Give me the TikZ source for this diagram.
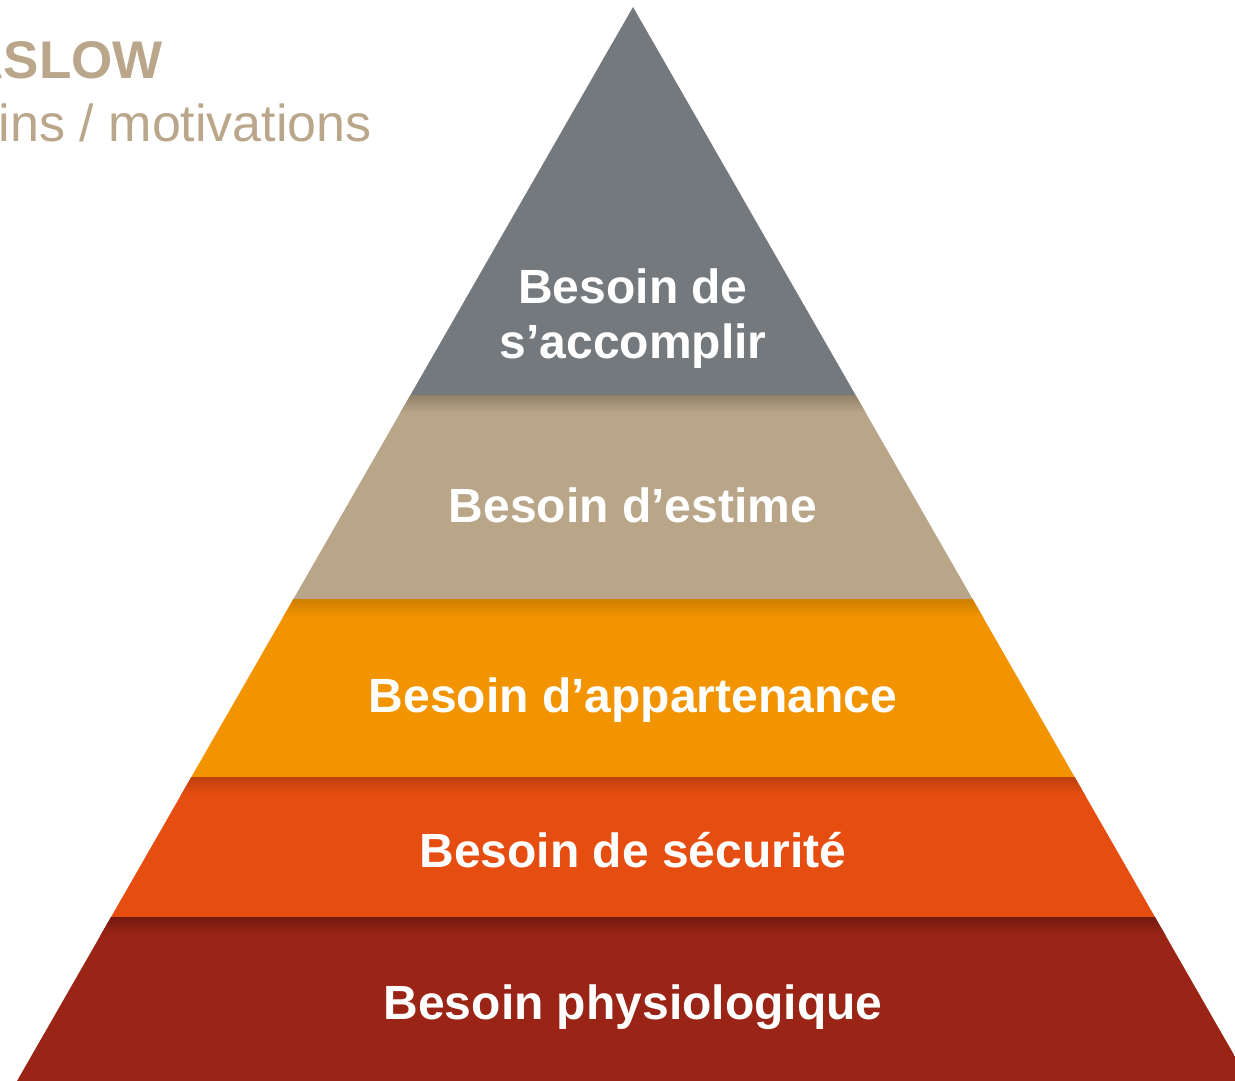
\documentclass[tikz,border=0pt]{standalone}
\usepackage{fontspec}
\setmainfont{Liberation Sans}
\definecolor{accgray}{HTML}{74797D}
\definecolor{estimetan}{HTML}{B9A689}
\definecolor{appartorange}{HTML}{F29400}
\definecolor{securred}{HTML}{E64E11}
\definecolor{physiored}{HTML}{9A2415}
\definecolor{titletan}{HTML}{BAA78B}

\begin{document}
\begin{tikzpicture}[x=1pt, y=-1pt,
    lbl/.style={text=white, font=\fontsize{48}{55}\selectfont\bfseries, align=center, inner sep=0pt, anchor=base}]
    \useasboundingbox (0,0) rectangle (1235,1081);
    \clip (0,0) rectangle (1235,1081);
    % title, cut at the left border
    \node[text=titletan, font=\fontsize{53}{60}\selectfont\bfseries, inner sep=0pt, anchor=base east] (title) at (163,79) {ASLOW};
    \node[text=titletan, font=\fontsize{52}{60}\selectfont, inner sep=0pt, anchor=base east] (subtitle) at (372,141) {ins / motivations};
    % pyramid
    \begin{scope}
        \clip (633,7) -- (17,1081) -- (1249,1081) -- cycle;
        \fill[accgray] (0,0) rectangle (1235,395);
        \fill[estimetan] (0,395) rectangle (1235,599);
        \shade[top color=estimetan!78!black, bottom color=estimetan] (0,395) rectangle (1235,413);
        \fill[appartorange] (0,599) rectangle (1235,777);
        \shade[top color=appartorange!85!black, bottom color=appartorange] (0,599) rectangle (1235,617);
        \fill[securred] (0,777) rectangle (1235,917);
        \shade[top color=securred!82!black, bottom color=securred] (0,777) rectangle (1235,795);
        \fill[physiored] (0,917) rectangle (1235,1081);
        \shade[top color=physiored!75!black, bottom color=physiored] (0,917) rectangle (1235,935);
    \end{scope}
    % base anchor sits on the last line
    \node[lbl] (accomplir) at (633,358) {Besoin de\\s’accomplir};
    \node[lbl] (estime) at (633,522) {Besoin d’estime};
    \node[lbl] (appartenance) at (633,712) {Besoin d’appartenance};
    \node[lbl] (securite) at (633,867) {Besoin de sécurité};
    \node[lbl] (physio) at (633,1019) {Besoin physiologique};
\end{tikzpicture}
\end{document}
